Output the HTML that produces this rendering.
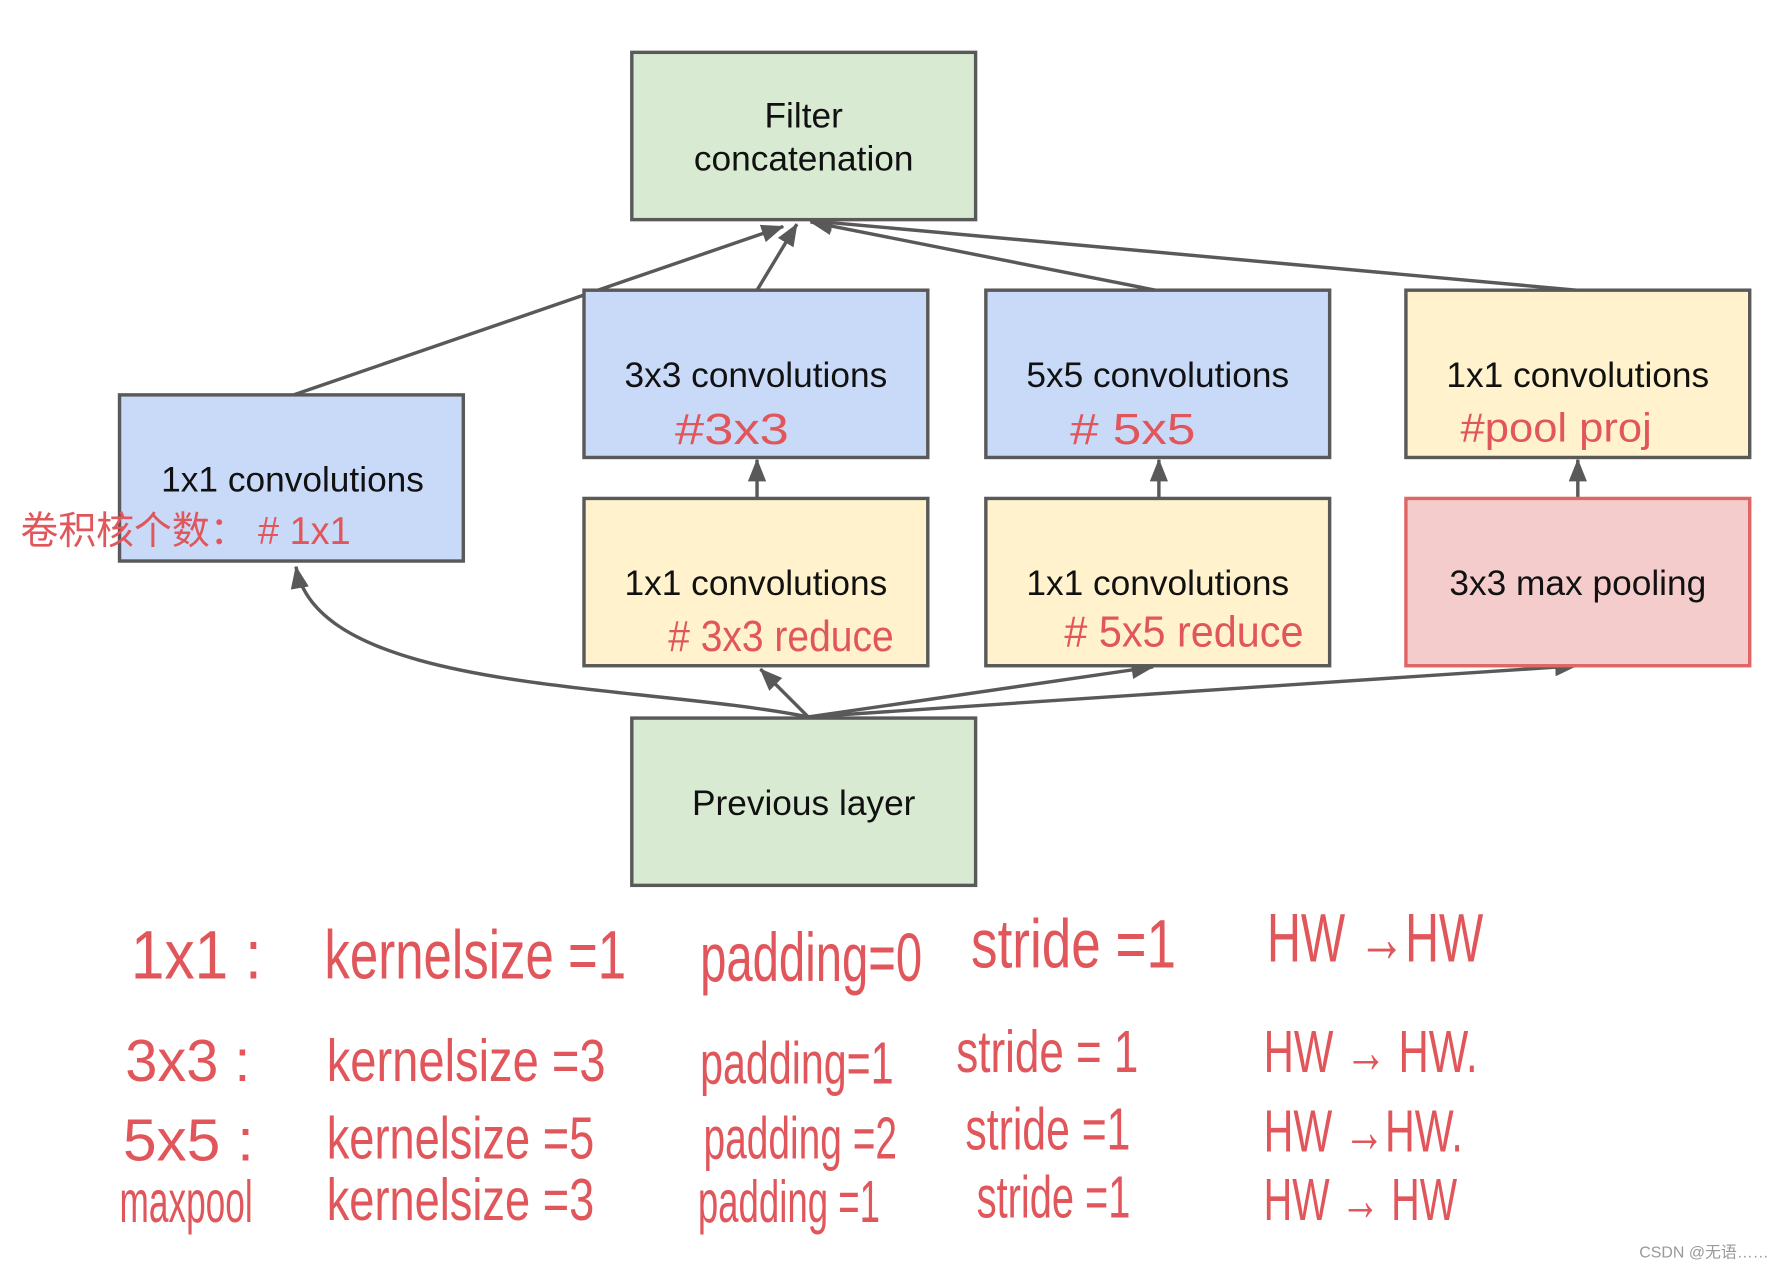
<!DOCTYPE html>
<html><head><meta charset="utf-8"><style>
html,body{margin:0;padding:0;background:#fff;}
svg{display:block}
.t{font-family:"Liberation Sans",sans-serif;font-size:31px;fill:#111;text-anchor:middle}
.h{font-family:"Liberation Sans Narrow","Liberation Sans","Noto Sans CJK SC",sans-serif;fill:#e0565b}
</style></head><body>
<svg width="1785" height="1270" viewBox="0 0 1568 1116" preserveAspectRatio="none">
<defs>
<marker id="b" markerWidth="20" markerHeight="16" refX="19" refY="8" orient="auto" markerUnits="userSpaceOnUse"><path d="M0,0 L20,8 L0,16z" fill="#595959"/></marker></defs>
<g stroke="#595959" stroke-width="3" fill="none">
<line x1="258" y1="347" x2="688" y2="199" marker-end="url(#b)"/>
<line x1="665" y1="255" x2="700" y2="197" marker-end="url(#b)"/>
<line x1="1015" y1="255" x2="712" y2="195" marker-end="url(#b)"/>
<line x1="1385" y1="255" x2="712" y2="194" marker-end="url(#b)"/>
<line x1="665" y1="438" x2="665" y2="404" marker-end="url(#b)"/>
<line x1="1018" y1="438" x2="1018" y2="404" marker-end="url(#b)"/>
<line x1="1386" y1="438" x2="1386" y2="404" marker-end="url(#b)"/>
<path d="M710,630 C560,600 280,610 260,498" marker-end="url(#b)"/>
<line x1="710" y1="630" x2="668" y2="588" marker-end="url(#b)"/>
<line x1="710" y1="630" x2="1013" y2="586" marker-end="url(#b)"/>
<line x1="710" y1="630" x2="1385" y2="585" marker-end="url(#b)"/>
</g>
<g stroke="#595959" stroke-width="3">
<rect x="555" y="46" width="302" height="147" fill="#d9ead3"/>
<rect x="513" y="255" width="302" height="147" fill="#c9daf8"/>
<rect x="866" y="255" width="302" height="147" fill="#c9daf8"/>
<rect x="1235" y="255" width="302" height="147" fill="#fff2cc"/>
<rect x="105" y="347" width="302" height="146" fill="#c9daf8"/>
<rect x="513" y="438" width="302" height="147" fill="#fff2cc"/>
<rect x="866" y="438" width="302" height="147" fill="#fff2cc"/>
<rect x="1235" y="438" width="302" height="147" fill="#f4cccc" stroke="#e06666"/>
<rect x="555" y="631" width="302" height="147" fill="#d9ead3"/>
</g>
<text class="t" x="706" y="112">Filter</text>
<text class="t" x="706" y="150">concatenation</text>
<text class="t" x="664" y="340">3x3 convolutions</text>
<text class="t" x="1017" y="340">5x5 convolutions</text>
<text class="t" x="1386" y="340">1x1 convolutions</text>
<text class="t" x="257" y="432">1x1 convolutions</text>
<text class="t" x="664" y="523">1x1 convolutions</text>
<text class="t" x="1017" y="523">1x1 convolutions</text>
<text class="t" x="1386" y="523">3x3 max pooling</text>
<text class="t" x="706" y="716">Previous layer</text>
<g class="h" font-size="38">
<text x="593" y="390" textLength="100" lengthAdjust="spacingAndGlyphs">#3x3</text>
<text x="940" y="390" textLength="110" lengthAdjust="spacingAndGlyphs">#  5x5</text>
<text x="1283" y="388" font-size="36" textLength="168" lengthAdjust="spacingAndGlyphs">#pool  proj</text>
<text x="18" y="478" font-size="34" textLength="290" lengthAdjust="spacingAndGlyphs">卷积核个数：  # 1x1</text>
<text x="587" y="572" font-size="38" textLength="198" lengthAdjust="spacingAndGlyphs"># 3x3 reduce</text>
<text x="935" y="568" font-size="38" textLength="210" lengthAdjust="spacingAndGlyphs"># 5x5 reduce</text>
</g>
<g class="h" font-size="60">
<text x="115" y="860" textLength="115" lengthAdjust="spacingAndGlyphs">1x1 :</text>
<text x="285" y="860" textLength="265" lengthAdjust="spacingAndGlyphs">kernelsize  =1</text>
<text x="615" y="862" textLength="195" lengthAdjust="spacingAndGlyphs">padding=0</text>
<text x="853" y="850" textLength="180" lengthAdjust="spacingAndGlyphs">stride =1</text>
<text x="1113" y="845" textLength="190" lengthAdjust="spacingAndGlyphs">HW →HW</text>
</g>
<g class="h" font-size="52">
<text x="110" y="950" textLength="110" lengthAdjust="spacingAndGlyphs">3x3 :</text>
<text x="287" y="950" textLength="245" lengthAdjust="spacingAndGlyphs">kernelsize  =3</text>
<text x="615" y="952" textLength="170" lengthAdjust="spacingAndGlyphs">padding=1</text>
<text x="840" y="942" textLength="160" lengthAdjust="spacingAndGlyphs">stride = 1</text>
<text x="1110" y="942" textLength="188" lengthAdjust="spacingAndGlyphs">HW → HW.</text>
<text x="108" y="1020" textLength="115" lengthAdjust="spacingAndGlyphs">5x5  :</text>
<text x="287" y="1018" textLength="235" lengthAdjust="spacingAndGlyphs">kernelsize  =5</text>
<text x="618" y="1018" textLength="170" lengthAdjust="spacingAndGlyphs">padding =2</text>
<text x="848" y="1010" textLength="145" lengthAdjust="spacingAndGlyphs">stride  =1</text>
<text x="1110" y="1012" textLength="175" lengthAdjust="spacingAndGlyphs">HW →HW.</text>
<text x="105" y="1074" textLength="117" lengthAdjust="spacingAndGlyphs">maxpool</text>
<text x="287" y="1072" textLength="235" lengthAdjust="spacingAndGlyphs">kernelsize  =3</text>
<text x="613" y="1074" textLength="160" lengthAdjust="spacingAndGlyphs">padding =1</text>
<text x="858" y="1070" textLength="135" lengthAdjust="spacingAndGlyphs">stride =1</text>
<text x="1110" y="1072" textLength="170" lengthAdjust="spacingAndGlyphs">HW → HW</text>
</g>
<text x="1440" y="1105" font-family="Liberation Sans,Noto Sans CJK SC,sans-serif" font-size="14" fill="#999">CSDN @无语……</text>
</svg>
</body></html>
